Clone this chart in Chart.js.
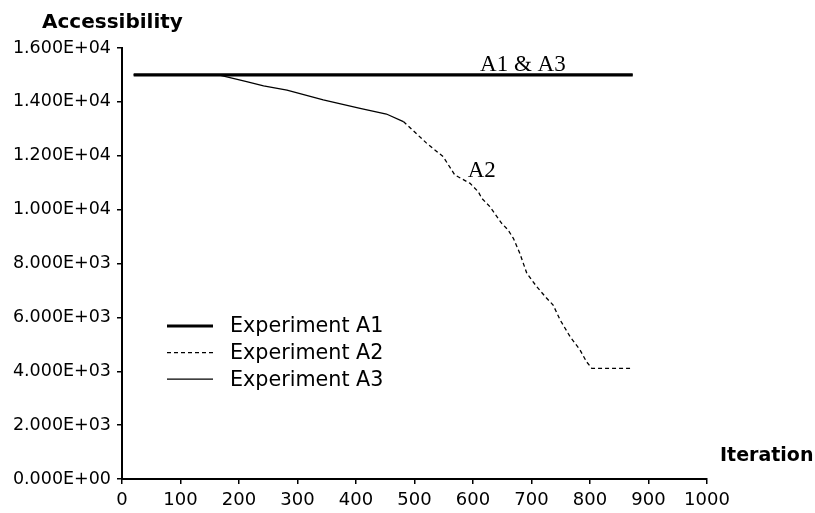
<!DOCTYPE html>
<html>
<head>
<meta charset="utf-8">
<script src="https://cdn.jsdelivr.net/npm/chart.js@4.4.1/dist/chart.umd.min.js"></script>
<style>
  html, body { margin: 0; padding: 0; background: #fff; }
  #accessChart { display: block; }
</style>
</head>
<body>
<canvas id="accessChart" width="815" height="513"></canvas>
<script>
// Experiment A1 (and A3, same values)
var a1_iter = [20, 873];
var a1_vals = [15000, 15000];

var a3_iter = [20, 873];
var a3_vals = [15000, 15000];

// Experiment A2
var a2_iter = [20, 165, 213, 242, 282, 344, 407, 452, 481, 521, 549, 569, 595, 609, 615, 629,
  649, 660, 669, 680, 692, 709, 726, 737, 749, 766, 783, 794, 803, 873];
var a2_vals = [15000, 15000, 14750, 14590, 14440, 14070, 13760, 13550, 13270, 12460, 11965, 11285, 10976, 10665, 10420, 10108,
  9492, 9243, 8935, 8378, 7636, 7138, 6708, 6459, 5902, 5282, 4789, 4354, 4110, 4110];

var series_labels = ['Experiment A1', 'Experiment A2', 'Experiment A3'];

// text notes on the plot: [text, iteration, value]
var notes = [
  ['A1 & A3', 612, 15160],
  ['A2', 591, 11200]
];

function toPoints(xs, ys) {
  return xs.map(function (x, i) { return {x: x, y: ys[i]}; });
}

// 16000 -> 1.600E+04
function sciLabel(v) {
  var s = Number(v).toExponential(3).toUpperCase();
  var parts = s.split('E');
  var sign = parts[1].charAt(0);
  var exp = parts[1].slice(1);
  if (exp.length < 2) exp = '0' + exp;
  return parts[0] + 'E' + sign + exp;
}

const notesPlugin = {
  id: 'notes',
  afterDatasetsDraw(chart) {
    var c = chart.ctx;
    var xs = chart.scales.x, ys = chart.scales.y;
    c.save();
    c.fillStyle = '#000';
    c.textAlign = 'left';
    c.textBaseline = 'alphabetic';
    c.font = '23px "Liberation Serif", "Times New Roman", serif';
    notes.forEach(function (n) {
      c.fillText(n[0], xs.getPixelForValue(n[1]), ys.getPixelForValue(n[2]));
    });
    // axis titles
    c.font = 'bold 20px "DejaVu Sans", sans-serif';
    c.fillText('Accessibility', 42, 28);
    c.font = 'bold 19px "DejaVu Sans", sans-serif';
    c.fillText('Iteration', 720, 461);
    c.restore();
  }
};

const legendPlugin = {
  id: 'sideLegend',
  afterDraw(chart) {
    var c = chart.ctx;
    c.save();
    c.font = '20.7px "DejaVu Sans", sans-serif';
    c.textBaseline = 'middle';
    c.fillStyle = '#000';
    chart.data.datasets.forEach(function (ds, i) {
      var y = 326 + i * 26.6;
      c.beginPath();
      c.lineWidth = ds.borderWidth;
      c.strokeStyle = ds.borderColor;
      c.setLineDash(ds.borderDash || []);
      c.moveTo(167, y);
      c.lineTo(213, y);
      c.stroke();
      c.setLineDash([]);
      c.fillText(ds.label, 230, y + 1);
    });
    c.restore();
  }
};

var ctx_access = document.getElementById('accessChart');
var accessChart = new Chart(ctx_access, {
  type: 'line',
  data: {
    datasets: [
      {
        label: series_labels[0],
        data: toPoints(a1_iter, a1_vals),
        borderColor: '#000',
        borderWidth: 3.2,
        pointRadius: 0,
        fill: false,
        tension: 0
      },
      {
        label: series_labels[1],
        data: toPoints(a2_iter, a2_vals),
        borderColor: '#000',
        borderWidth: 1.3,
        borderDash: [4, 3],
        pointRadius: 0,
        fill: false,
        tension: 0,
        // dense part before ~480 looks solid in the original
        segment: {
          borderDash: function (ctx) { return ctx.p1.parsed.x <= 481 ? [] : undefined; }
        }
      },
      {
        label: series_labels[2],
        data: toPoints(a3_iter, a3_vals),
        borderColor: '#000',
        borderWidth: 1.2,
        pointRadius: 0,
        fill: false,
        tension: 0
      }
    ]
  },
  options: {
    responsive: false,
    animation: false,
    layout: {
      padding: {top: 48, right: 108, left: 0, bottom: 0}
    },
    scales: {
      x: {
        type: 'linear',
        min: 0,
        max: 1000,
        afterFit: function (scale) { scale.height = 34; },
        border: {color: '#000', width: 2},
        grid: {drawOnChartArea: false, drawTicks: true, tickLength: 5, color: '#000', lineWidth: 1.5},
        ticks: {
          stepSize: 100,
          color: '#000',
          padding: 6,
          maxRotation: 0,
          font: {family: '"DejaVu Sans", sans-serif', size: 18},
          callback: function (v) { return String(v); }
        }
      },
      y: {
        min: 0,
        max: 16000,
        afterFit: function (scale) { scale.width = 122; },
        border: {color: '#000', width: 2},
        grid: {drawOnChartArea: false, drawTicks: true, tickLength: 5, color: '#000', lineWidth: 1.5},
        ticks: {
          stepSize: 2000,
          color: '#000',
          padding: 6,
          font: {family: '"DejaVu Sans", sans-serif', size: 17.5},
          callback: function (v) { return sciLabel(v); }
        }
      }
    },
    plugins: {
      legend: {display: false},
      tooltip: {enabled: false}
    }
  },
  plugins: [notesPlugin, legendPlugin]
});
</script>
</body>
</html>
